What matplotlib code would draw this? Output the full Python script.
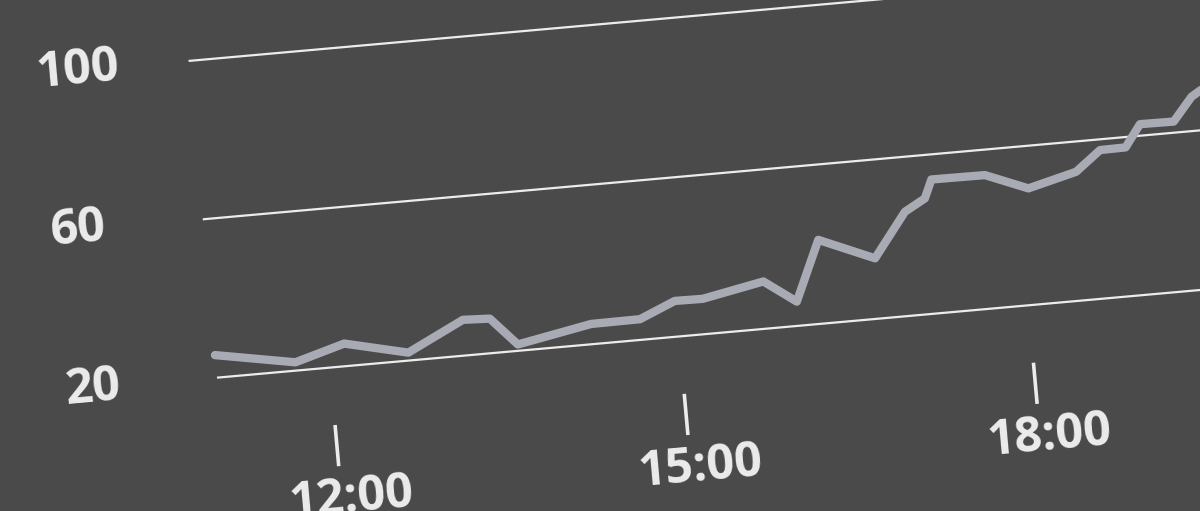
import matplotlib.pyplot as plt
from matplotlib.transforms import Affine2D

# series (hour of day, value)
hours = [11.03, 11.71, 12.14, 12.68, 13.17, 13.40, 13.62, 14.26, 14.68, 14.99,
         15.23, 15.76, 16.03, 16.26, 16.73, 17.02, 17.20, 17.27, 17.73, 18.09,
         18.51, 18.73, 18.95, 19.09, 19.38, 19.55, 19.76]
values = [25.7, 22.1, 25.7, 22.0, 29.0, 28.7, 21.6, 25.1, 25.2, 29.0,
          28.9, 31.9, 26.1, 41.1, 35.2, 46.2, 49.1, 53.7, 53.6, 49.3,
          52.4, 57.3, 57.4, 62.9, 62.8, 68.6, 72.3]

grid_values = [20, 60, 100]
grid_labels = ['20', '60', '100']
tick_hours = [12, 15, 18]
tick_labels = ['12:00', '15:00', '18:00']

BG = '#4a4a4a'
LINE = '#a9abb4'
WHITE = '#ececec'

fig = plt.figure(figsize=(12, 5.11), dpi=100, facecolor=BG)
ax = fig.add_axes([0, 0, 1, 1])
ax.set_facecolor(BG)
ax.set_xlim(0, 1200)
ax.set_ylim(511, 0)
ax.axis('off')

# the chart sits tilted ~5 deg: (hour, value) -> pixel
sx, sy = 116.4, -10.38      # one hour
vx, vy = -0.355, -3.959     # one value unit
ox = 329.9 - sx * 12 - vx * 20
oy = 367.6 - sy * 12 - vy * 20
tilt = Affine2D.from_values(sx, sy, vx, vy, ox, oy) + ax.transData
angle = 5.1

x_start, x_end = 11.03, 22.0
for g in grid_values:
    ax.plot([x_start, x_end], [g, g], color=WHITE, lw=1.6, transform=tilt,
            solid_capstyle='butt')

ax.plot(hours, values, color=LINE, lw=6, transform=tilt,
        solid_capstyle='round', solid_joinstyle='round')

font = dict(family=['Open Sans', 'DejaVu Sans'], weight='bold', size=35,
            color=WHITE)

for g, lab in zip(grid_values, grid_labels):
    ax.text(9.72, g, lab, transform=tilt, rotation=angle,
            rotation_mode='anchor', ha='left', va='center', **font)

for h, lab in zip(tick_hours, tick_labels):
    ax.plot([h, h], [5.5, -4.9], color=WHITE, lw=2.6, transform=tilt,
            solid_capstyle='butt')
    ax.text(h + 0.08, -13.4, lab, transform=tilt, rotation=angle,
            rotation_mode='anchor', ha='center', va='center', **font)

fig.savefig('out.png', dpi=100, facecolor=BG)
